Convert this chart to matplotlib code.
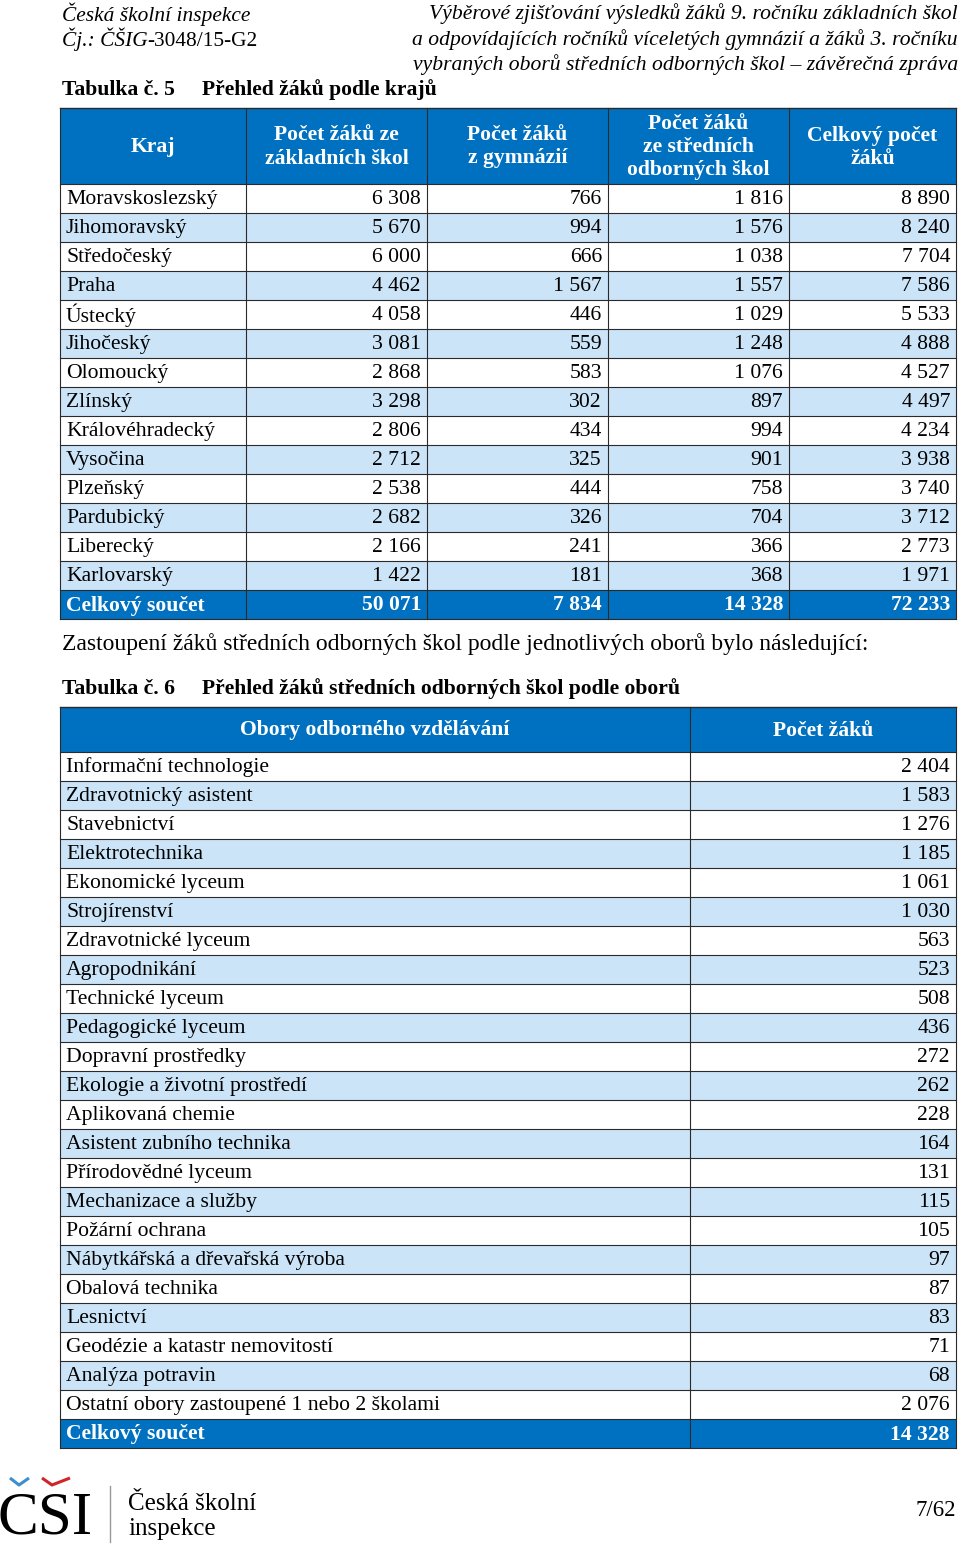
"""Page 7 of the ČŠI report: two student-count tables."""

import matplotlib.pyplot as plt
from matplotlib.patches import Rectangle

plt.rcParams['font.family'] = ['Liberation Serif', 'DejaVu Serif']

# --- Tabulka č. 5 data ---
regions = ['Moravskoslezský', 'Jihomoravský', 'Středočeský', 'Praha', 'Ústecký',
           'Jihočeský', 'Olomoucký', 'Zlínský', 'Královéhradecký', 'Vysočina',
           'Plzeňský', 'Pardubický', 'Liberecký', 'Karlovarský']
zs_counts = [6308, 5670, 6000, 4462, 4058, 3081, 2868, 3298, 2806, 2712, 2538, 2682, 2166, 1422]
gym_counts = [766, 994, 666, 1567, 446, 559, 583, 302, 434, 325, 444, 326, 241, 181]
sos_counts = [1816, 1576, 1038, 1557, 1029, 1248, 1076, 897, 994, 901, 758, 704, 366, 368]
all_counts = [8890, 8240, 7704, 7586, 5533, 4888, 4527, 4497, 4234, 3938, 3740, 3712, 2773, 1971]
t5_headers = ['Kraj', 'Počet žáků ze\nzákladních škol', 'Počet žáků\nz gymnázií',
              'Počet žáků\nze středních\nodborných škol', 'Celkový počet\nžáků']

# --- Tabulka č. 6 data ---
fields = ['Informační technologie', 'Zdravotnický asistent', 'Stavebnictví',
          'Elektrotechnika', 'Ekonomické lyceum', 'Strojírenství', 'Zdravotnické lyceum',
          'Agropodnikání', 'Technické lyceum', 'Pedagogické lyceum', 'Dopravní prostředky',
          'Ekologie a životní prostředí', 'Aplikovaná chemie', 'Asistent zubního technika',
          'Přírodovědné lyceum', 'Mechanizace a služby', 'Požární ochrana',
          'Nábytkářská a dřevařská výroba', 'Obalová technika', 'Lesnictví',
          'Geodézie a katastr nemovitostí', 'Analýza potravin',
          'Ostatní obory zastoupené 1 nebo 2 školami']
field_counts = [2404, 1583, 1276, 1185, 1061, 1030, 563, 523, 508, 436, 272, 262, 228,
                164, 131, 115, 105, 97, 87, 83, 71, 68, 2076]
t6_headers = ['Obory odborného vzdělávání', 'Počet žáků']

BLUE = '#0070C0'
LIGHT = '#CCE4F7'
LINE = '#2a2a2a'
FS = 15.6


def fmt(v):
    return f'{v:,}'.replace(',', ' ')


def draw_table(ax, top, col_edges, header_h, row_h, headers, rows, total_row):
    left, right = col_edges[0], col_edges[-1]
    # header
    ax.add_patch(Rectangle((left, top), right - left, header_h, fc=BLUE, ec='none'))
    for i, h in enumerate(headers):
        cx = (col_edges[i] + col_edges[i + 1]) / 2
        ax.text(cx, top + header_h / 2 + 1, h, ha='center', va='center', color='white',
                fontsize=FS, fontweight='bold', linespacing=1.2)
    y = top + header_h
    all_rows = rows + [total_row]
    for r, cells in enumerate(all_rows):
        is_total = r == len(rows)
        fc = BLUE if is_total else (LIGHT if r % 2 == 1 else 'white')
        ax.add_patch(Rectangle((left, y), right - left, row_h, fc=fc, ec='none'))
        color = 'white' if is_total else 'black'
        weight = 'bold' if is_total else 'normal'
        for c, val in enumerate(cells):
            if c == 0:
                ax.text(col_edges[0] + 6, y + row_h / 2 + 1, val, ha='left', va='center',
                        fontsize=FS, color=color, fontweight=weight)
            else:
                ax.text(col_edges[c + 1] - 6, y + row_h / 2 + 1, fmt(val), ha='right',
                        va='center', fontsize=FS, color=color, fontweight=weight)
        y += row_h
    bottom = y
    # grid lines
    ax.plot([left, right], [top, top], color=LINE, lw=1.0)
    yy = top + header_h
    for _ in range(len(all_rows) + 1):
        ax.plot([left, right], [yy, yy], color=LINE, lw=0.8)
        yy += row_h
    for x in col_edges:
        ax.plot([x, x], [top, bottom], color=LINE, lw=0.8)


fig = plt.figure(figsize=(9.6, 15.47), dpi=100)
ax = fig.add_axes([0, 0, 1, 1])
ax.set_xlim(0, 960)
ax.set_ylim(1547, 0)
ax.axis('off')

# page header
ax.text(62, 14, 'Česká školní inspekce', fontsize=15.4, style='italic', va='center')
t = ax.text(62, 46, 'Čj.: ČŠIG', fontsize=15.4, style='italic', va='baseline')
ax.annotate('-3048/15-G2', xycoords=(t, 'data'), xy=(1, 46), va='baseline', fontsize=15.4)
right_lines = ['Výběrové zjišťování výsledků žáků 9. ročníku základních škol',
               'a odpovídajících ročníků víceletých gymnázií a žáků 3. ročníku',
               'vybraných oborů středních odborných škol – závěrečná zpráva']
for i, line in enumerate(right_lines):
    ax.text(958, 14 + 25.5 * i, line, fontsize=15.6, style='italic', ha='right', va='center')

# table 5
ax.text(62, 90, 'Tabulka č. 5', fontsize=FS, fontweight='bold', va='center')
ax.text(202, 90, 'Přehled žáků podle krajů', fontsize=FS, fontweight='bold', va='center')
t5_rows = [[regions[i], zs_counts[i], gym_counts[i], sos_counts[i], all_counts[i]]
           for i in range(len(regions))]
t5_total = ['Celkový součet', sum(zs_counts), sum(gym_counts), sum(sos_counts), sum(all_counts)]
draw_table(ax, 108, [60, 246, 427, 608, 789, 956], 76, 29, t5_headers, t5_rows, t5_total)

ax.text(62, 644, 'Zastoupení žáků středních odborných škol podle jednotlivých oborů bylo následující:',
        fontsize=17, va='center')

# table 6
ax.text(62, 689, 'Tabulka č. 6', fontsize=FS, fontweight='bold', va='center')
ax.text(202, 689, 'Přehled žáků středních odborných škol podle oborů', fontsize=FS,
        fontweight='bold', va='center')
t6_rows = [[fields[i], field_counts[i]] for i in range(len(fields))]
t6_total = ['Celkový součet', sum(field_counts)]
draw_table(ax, 707, [60, 690, 956], 45, 29, t6_headers, t6_rows, t6_total)

# footer logo
ax.text(-2, 1534, 'CSI', fontsize=44, va='baseline', ha='left')
ax.plot([10, 19, 29], [1478, 1485, 1478], color='#3B8FD0', lw=2.2, solid_capstyle='butt')
ax.plot([42, 52, 70], [1478, 1485, 1478], color='#D2232A', lw=2.2, solid_capstyle='butt')
ax.plot([110, 110], [1486, 1542], color='#999999', lw=1.0)
ax.text(128, 1510, 'Česká školní', fontsize=18, va='baseline')
ax.text(128, 1535, 'inspekce', fontsize=18, va='baseline')
ax.text(956, 1511, '7/62', fontsize=16.5, ha='right', va='center')

fig.savefig('out.png', dpi=100)
